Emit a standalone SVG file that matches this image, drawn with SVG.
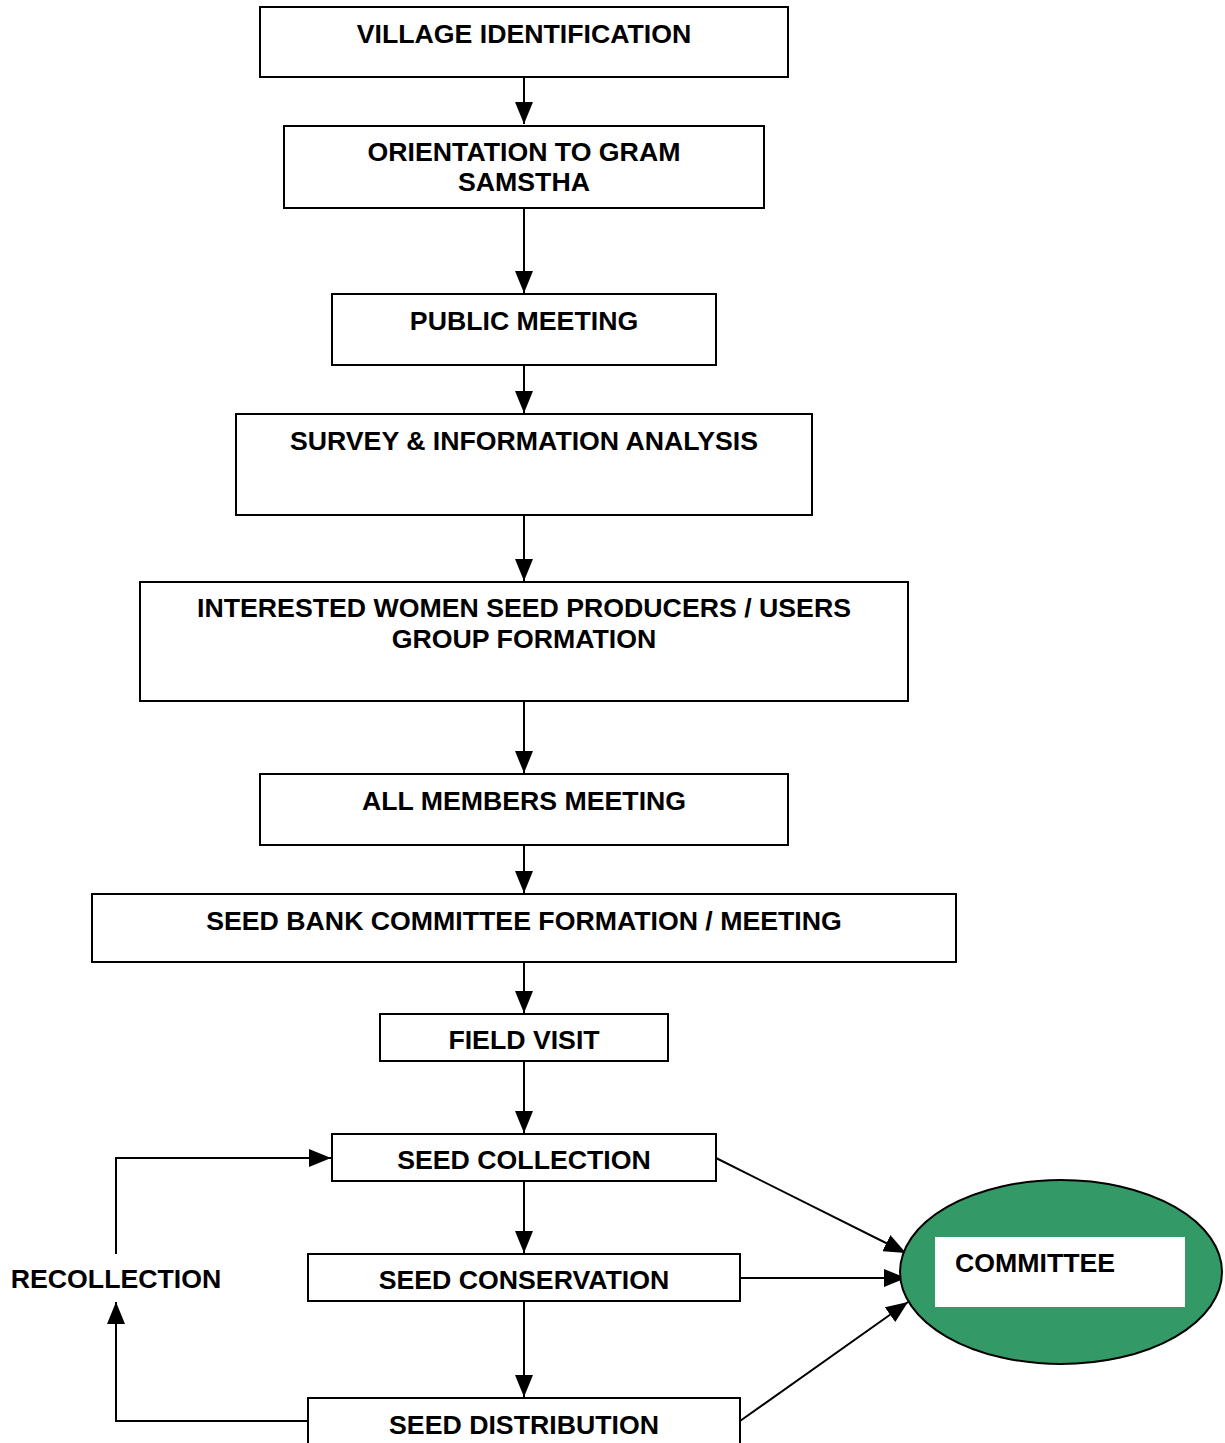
<svg xmlns="http://www.w3.org/2000/svg" width="1225" height="1443" viewBox="0 0 1225 1443">
<style>
.box{fill:#fff;stroke:#000;stroke-width:2}
.t{font-family:"Liberation Sans",Arial,sans-serif;font-weight:bold;font-size:26.7px;fill:#000;text-anchor:middle}
.c{fill:none;stroke:#000;stroke-width:2}
</style>
<defs>
<marker id="ah" viewBox="0 0 22 18" refX="22" refY="9" markerWidth="22" markerHeight="18" markerUnits="userSpaceOnUse" orient="auto">
<path d="M0,0 L22,9 L0,18 Z" fill="#000"/>
</marker>
</defs>
<rect width="1225" height="1443" fill="#fff"/>
<g id="connectors">
<line class="c" x1="524" y1="77" x2="524" y2="124" marker-end="url(#ah)"/>
<line class="c" x1="524" y1="208" x2="524" y2="293" marker-end="url(#ah)"/>
<line class="c" x1="524" y1="365" x2="524" y2="413" marker-end="url(#ah)"/>
<line class="c" x1="524" y1="515" x2="524" y2="581" marker-end="url(#ah)"/>
<line class="c" x1="524" y1="701" x2="524" y2="773" marker-end="url(#ah)"/>
<line class="c" x1="524" y1="845" x2="524" y2="893" marker-end="url(#ah)"/>
<line class="c" x1="524" y1="962" x2="524" y2="1013" marker-end="url(#ah)"/>
<line class="c" x1="524" y1="1061" x2="524" y2="1133" marker-end="url(#ah)"/>
<line class="c" x1="524" y1="1181" x2="524" y2="1253" marker-end="url(#ah)"/>
<line class="c" x1="524" y1="1301" x2="524" y2="1397" marker-end="url(#ah)"/>
<polyline class="c" points="116,1254 116,1158 331,1158" marker-end="url(#ah)"/>
<polyline class="c" points="308,1421 116,1421 116,1302" marker-end="url(#ah)"/>
<line class="c" x1="716" y1="1158" x2="906" y2="1253" marker-end="url(#ah)"/>
<line class="c" x1="740" y1="1278" x2="906" y2="1278" marker-end="url(#ah)"/>
<line class="c" x1="740" y1="1421" x2="908" y2="1302" marker-end="url(#ah)"/>
</g>
<g id="n1"><rect class="box" x="260" y="7" width="528" height="70"/><text class="t" x="524" y="43">VILLAGE IDENTIFICATION</text></g>
<g id="n2"><rect class="box" x="284" y="126" width="480" height="82"/><text class="t" x="524" y="161">ORIENTATION TO GRAM</text><text class="t" x="524" y="191">SAMSTHA</text></g>
<g id="n3"><rect class="box" x="332" y="294" width="384" height="71"/><text class="t" x="524" y="330">PUBLIC MEETING</text></g>
<g id="n4"><rect class="box" x="236" y="414" width="576" height="101"/><text class="t" x="524" y="450">SURVEY &amp; INFORMATION ANALYSIS</text></g>
<g id="n5"><rect class="box" x="140" y="582" width="768" height="119"/><text class="t" x="524" y="617">INTERESTED WOMEN SEED PRODUCERS / USERS</text><text class="t" x="524" y="648">GROUP FORMATION</text></g>
<g id="n6"><rect class="box" x="260" y="774" width="528" height="71"/><text class="t" x="524" y="810">ALL MEMBERS MEETING</text></g>
<g id="n7"><rect class="box" x="92" y="894" width="864" height="68"/><text class="t" x="524" y="930">SEED BANK COMMITTEE FORMATION / MEETING</text></g>
<g id="n8"><rect class="box" x="380" y="1014" width="288" height="47"/><text class="t" x="524" y="1049">FIELD VISIT</text></g>
<g id="n9"><rect class="box" x="332" y="1134" width="384" height="47"/><text class="t" x="524" y="1169">SEED COLLECTION</text></g>
<g id="n10"><rect class="box" x="308" y="1254" width="432" height="47"/><text class="t" x="524" y="1289">SEED CONSERVATION</text></g>
<g id="n11"><rect class="box" x="308" y="1398" width="432" height="60"/><text class="t" x="524" y="1434">SEED DISTRIBUTION</text></g>
<g id="n12"><text class="t" x="116" y="1288">RECOLLECTION</text></g>
<g id="n13"><ellipse cx="1061" cy="1272" rx="161" ry="92" fill="#339966" stroke="#000" stroke-width="2"/><rect x="935" y="1237" width="250" height="70" fill="#fff"/><text class="t" x="955" y="1272" style="text-anchor:start">COMMITTEE</text></g>
</svg>
